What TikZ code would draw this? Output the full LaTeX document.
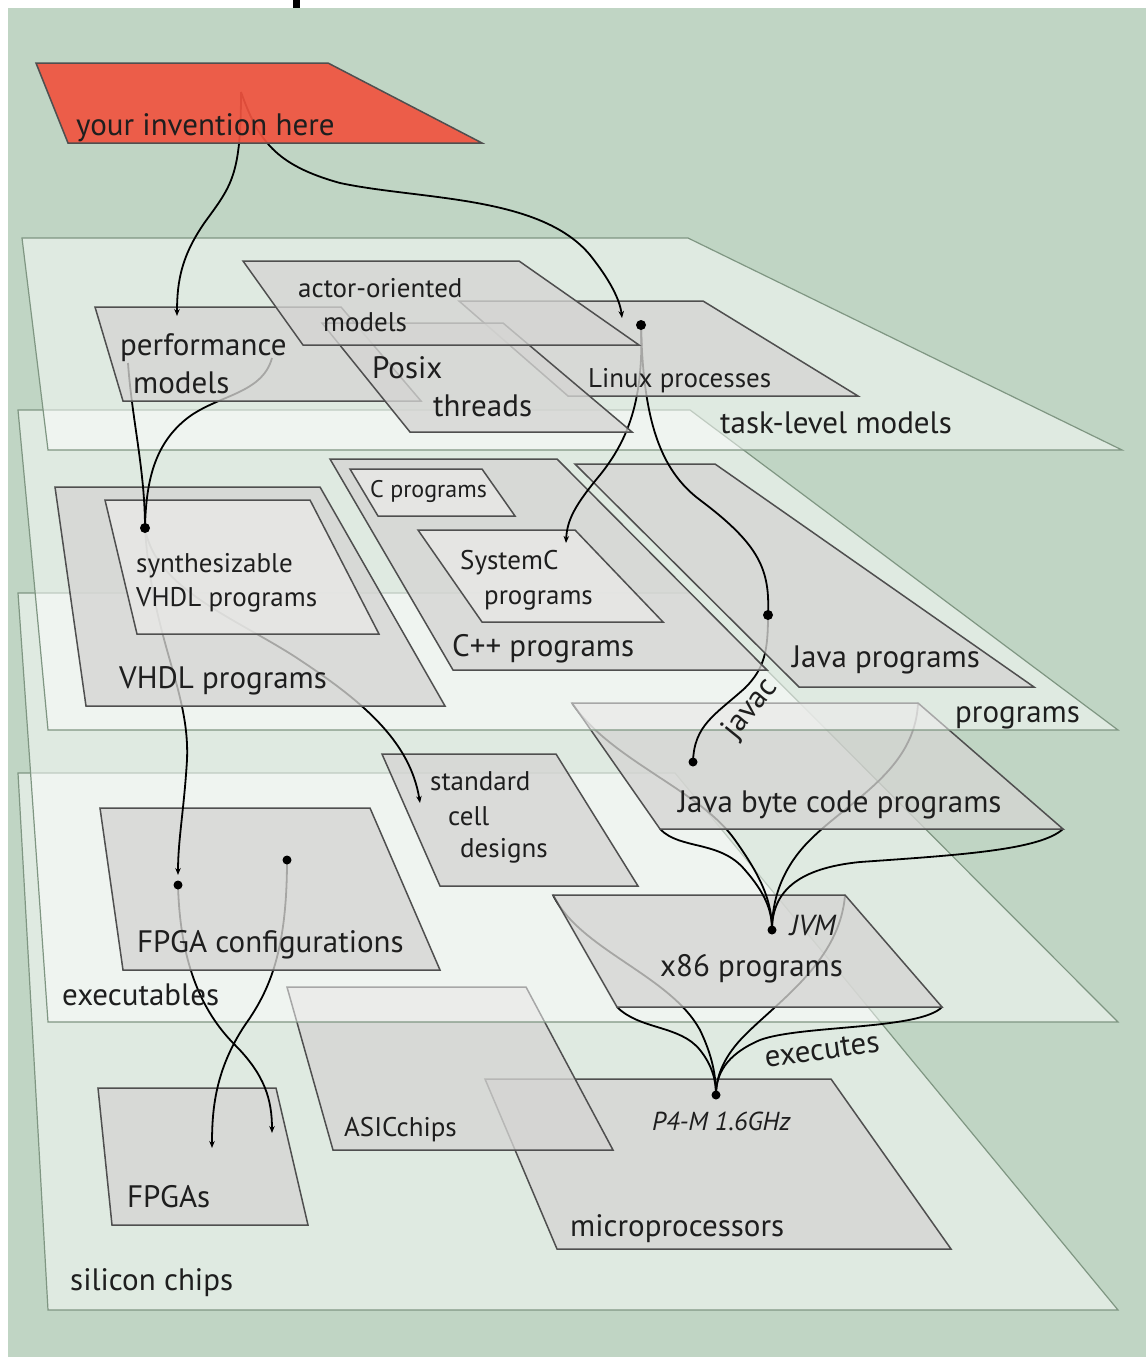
\documentclass[tikz,border=0pt]{standalone}
\usepackage{fontspec}
\setmainfont{PT Sans}
\usetikzlibrary{arrows.meta}
\definecolor{bg}{HTML}{C0D5C4}
\definecolor{layeredge}{HTML}{7F9682}
\definecolor{boxfill}{HTML}{D5D5D3}
\definecolor{boxlight}{HTML}{E9E9E7}
\definecolor{boxedge}{HTML}{4F4F4F}
\definecolor{inv}{HTML}{F0533F}
\definecolor{ink}{HTML}{1E1E1E}
\begin{document}
\begin{tikzpicture}[x=1pt,y=-1pt,
  layerpl/.style={fill=white,fill opacity=0.5,draw=layeredge,draw opacity=1,line width=1.2pt},
  box/.style={fill=boxfill,fill opacity=0.78,draw=boxedge,draw opacity=1,line width=1.5pt},
  lbox/.style={box,fill=boxlight},
  redbox/.style={fill=inv,fill opacity=0.92,draw=boxedge,draw opacity=1,line width=1.5pt},
  conn/.style={draw=black,line width=1.8pt},
  arr/.style={conn,-{Stealth[length=7pt,width=5.5pt]}},
  big/.style={font=\fontsize{31}{36}\selectfont,text=ink,anchor=base west,inner sep=0pt},
  med/.style={font=\fontsize{27}{32}\selectfont,text=ink,anchor=base west,inner sep=0pt},
  sml/.style={font=\fontsize{24}{28}\selectfont,text=ink,anchor=base west,inner sep=0pt},
]
\useasboundingbox (0,0) rectangle (1146,1357);
\fill[white] (0,0) rectangle (1146,1357);
\fill[bg] (8,8) rectangle (1146,1357);
\fill[black] (293,0) rectangle (300,8);

% ---------- named points ----------
\coordinate (inv) at (241,92);
\coordinate (perfArr) at (177,316);
\coordinate (linuxArr) at (622,318);
\coordinate (linux) at (641,325);
\coordinate (sysc) at (566,543);
\coordinate (synth) at (145,528);
\coordinate (javap) at (768,615);
\coordinate (jbc) at (693,762);
\coordinate (fcArr) at (178,875);
\coordinate (scArr) at (420,803);
\coordinate (fc1) at (178,885);
\coordinate (fc2) at (287,860);
\coordinate (fpA) at (272,1133);
\coordinate (fpB) at (212,1148);
\coordinate (jvm) at (772,930);
\coordinate (p4) at (716,1095);
\coordinate (jbA) at (572,703);
\coordinate (jbB) at (918,703);
\coordinate (jbC) at (1063,829);
\coordinate (jbD) at (660,829);
\coordinate (xA) at (553,895);
\coordinate (xB) at (845,895);
\coordinate (xC) at (942,1007);
\coordinate (xD) at (617,1007);

% ---------- silicon chips ----------
\path[layerpl] (18,773) -- (675,773) -- (1118,1310) -- (48,1310) -- cycle;
\path[box] (485,1079) -- (831,1079) -- (951,1249) -- (557,1249) -- cycle;
\path[box] (287,987) -- (526,987) -- (613,1150) -- (333,1150) -- cycle;
\path[box] (98,1088) -- (276,1088) -- (308,1225) -- (112,1225) -- cycle;

% ---------- executables ----------
\path[layerpl] (18,593) -- (690,593) -- (1118,1022) -- (48,1022) -- cycle;
\draw[arr] (fc1) .. controls (180,960) and (200,1010) .. (235,1045) .. controls (265,1075) and (272,1100) .. (fpA);
\draw[arr] (fc2) .. controls (287,950) and (270,990) .. (245,1025) .. controls (215,1070) and (212,1110) .. (fpB);
\draw[conn] (xD) .. controls (640,1030) and (680,1025) .. (700,1050) .. controls (712,1065) and (716,1080) .. (p4);
\draw[conn] (xC) .. controls (920,1030) and (800,1025) .. (760,1040) .. controls (725,1055) and (716,1075) .. (p4);
\draw[conn] (xA) .. controls (580,950) and (670,975) .. (700,1030) .. controls (712,1055) and (716,1075) .. (p4);
\draw[conn] (xB) .. controls (840,960) and (780,1000) .. (745,1035) .. controls (725,1055) and (716,1075) .. (p4);
\fill (p4) circle (4.5);
\path[box] (100,808) -- (370,808) -- (440,970) -- (123,970) -- cycle;
\path[box] (382,754) -- (556,754) -- (638,886) -- (440,886) -- cycle;
\path[box] (xA) -- (xB) -- (xC) -- (xD) -- cycle;
\draw[conn] (jbD) .. controls (680,850) and (720,840) .. (745,870) .. controls (765,893) and (772,910) .. (jvm);
\draw[conn] (jbC) .. controls (1040,850) and (960,855) .. (860,862) .. controls (800,868) and (772,890) .. (jvm);
\draw[conn] (jbA) .. controls (610,760) and (700,790) .. (735,840) .. controls (760,875) and (772,900) .. (jvm);
\draw[conn] (jbB) .. controls (915,770) and (850,800) .. (810,840) .. controls (785,865) and (772,895) .. (jvm);
\fill (jvm) circle (4.5);
\path[box] (jbA) -- (jbB) -- (jbC) -- (jbD) -- cycle;
\fill (fc1) circle (4.5);
\fill (fc2) circle (4.5);

% ---------- programs ----------
\path[layerpl] (18,410) -- (690,410) -- (1118,730) -- (48,730) -- cycle;
\draw[arr] (synth) .. controls (152,640) and (190,690) .. (187,760) .. controls (184,810) and (178,840) .. (fcArr);
\draw[arr] (synth) .. controls (155,590) and (240,620) .. (300,660) .. controls (360,700) and (410,740) .. (scArr);
\draw[conn] (javap) .. controls (768,650) and (765,668) .. (745,688) .. controls (715,715) and (694,725) .. (jbc);
\fill (jbc) circle (4.5);
\path[box] (55,487) -- (320,487) -- (445,706) -- (86,706) -- cycle;
\path[lbox] (105,500) -- (310,500) -- (379,634) -- (137,634) -- cycle;
\path[box] (330,459) -- (557,459) -- (767,670) -- (453,670) -- cycle;
\path[lbox] (350,469) -- (482,469) -- (515,516) -- (378,516) -- cycle;
\path[lbox] (418,530) -- (575,530) -- (663,622) -- (482,622) -- cycle;
\path[box] (575,464) -- (715,464) -- (1034,687) -- (799,687) -- cycle;
\fill (javap) circle (5);

% ---------- task-level models ----------
\path[layerpl] (22,238) -- (688,238) -- (1122,450) -- (48,450) -- cycle;
\draw[conn] (128,363) .. controls (132,420) and (145,470) .. (synth);
\draw[conn] (272,358) .. controls (262,395) and (215,395) .. (185,420) .. controls (155,445) and (146,480) .. (synth);
\draw[arr] (linux) .. controls (644,400) and (628,440) .. (600,475) .. controls (575,505) and (567,520) .. (sysc);
\draw[conn] (linux) .. controls (643,420) and (660,470) .. (700,500) .. controls (760,545) and (770,570) .. (javap);
\fill (synth) circle (5);
\path[box] (95,307) -- (341,307) -- (421,401) -- (123,401) -- cycle;
\path[box] (459,301) -- (703,301) -- (858,396) -- (568,396) -- cycle;
\path[box] (322,323) -- (503,323) -- (632,432) -- (410,432) -- cycle;
\path[box] (243,261) -- (519,261) -- (639,345) -- (303,345) -- cycle;
\fill (linux) circle (5);
\draw[arr] (inv) .. controls (241,175) and (232,185) .. (205,222) .. controls (182,255) and (177,280) .. (perfArr);
\draw[arr] (inv) .. controls (258,140) and (275,165) .. (340,183) .. controls (420,200) and (540,195) .. (590,255) .. controls (610,280) and (620,300) .. (linuxArr);
\path[redbox] (36,63) -- (328,63) -- (482,143) -- (68,143) -- cycle;

% ---------- labels ----------
\node[big] (tInv) at (76,135) {your invention here};
\node[med] (tActor1) at (298,297) {actor-oriented};
\node[med] (tActor2) at (323,331) {models};
\node[big] (tPerf1) at (120,355) {performance};
\node[big] (tPerf2) at (133,393) {models};
\node[big] (tPosix1) at (372,378) {Posix};
\node[big] (tPosix2) at (433,416) {threads};
\node[med] (tLinux) at (588,387) {Linux processes};
\node[big] (tTask) at (720,433) {task-level models};
\node[sml] (tC) at (370,497) {C programs};
\node[med] (tSyn1) at (136,572) {synthesizable};
\node[med] (tSyn2) at (136,606) {VHDL programs};
\node[med] (tSys1) at (460,569) {SystemC};
\node[med] (tSys2) at (484,604) {programs};
\node[big] (tCpp) at (452,656) {C++ programs};
\node[big] (tJava) at (792,667) {Java programs};
\node[big] (tVHDL) at (119,688) {VHDL programs};
\node[big] (tProg) at (955,722) {programs};
\node[big,anchor=center,rotate=51] (tJavac) at (751,709) {javac};
\node[med] (tStd1) at (430,790) {standard};
\node[med] (tStd2) at (448,825) {cell};
\node[med] (tStd3) at (460,857) {designs};
\node[big] (tJbc) at (678,812) {Java byte code programs};
\node[big] (tFC) at (137,952) {FPGA configurations};
\node[med,font=\fontsize{29}{34}\selectfont\itshape] (tJVM) at (790,935) {JVM};
\node[big] (tX86) at (660,976) {x86 programs};
\node[big] (tExe) at (62,1005) {executables};
\node[big,anchor=center,rotate=8] (tExec) at (822,1050) {executes};
\node[med] (tASIC) at (344,1136) {ASICchips};
\node[med,font=\fontsize{26}{31}\selectfont\itshape] (tP4) at (652,1130) {P4-M 1.6GHz};
\node[big] (tFPGA) at (127,1207) {FPGAs};
\node[big] (tMicro) at (570,1236) {microprocessors};
\node[big] (tSil) at (70,1290) {silicon chips};
\end{tikzpicture}
\end{document}
